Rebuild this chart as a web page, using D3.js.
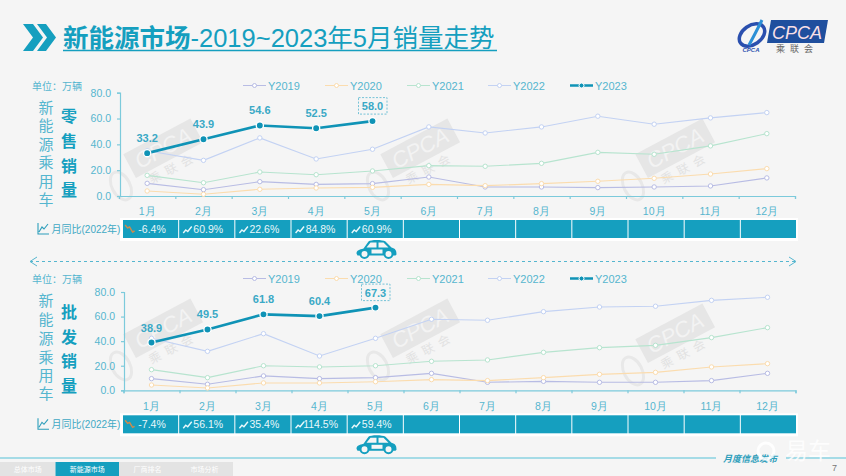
<!DOCTYPE html>
<html>
<head>
<meta charset="utf-8">
<script src="https://cdn.jsdelivr.net/npm/d3@7/dist/d3.min.js"></script>
<style>
  html, body { margin: 0; padding: 0; background: #f5f5f5; overflow: hidden; }
  svg { display: block; font-family: "Liberation Sans", "Noto Sans CJK SC", sans-serif; }
</style>
</head>
<body>
<div id="chart"></div>
<script>
var months = ['1月','2月','3月','4月','5月','6月','7月','8月','9月','10月','11月','12月'];
var yTicks = [0, 20, 40, 60, 80];
var years = ['Y2019','Y2020','Y2021','Y2022','Y2023'];
var colors = ['#b8bce4','#fbdcae','#b7e4cf','#c3d2f3','#0f93b6'];
var navTabs = ['总体市场','新能源市场','厂商排名','市场分析'];

// retail
var retail2019 = [9.8,4.9,11.1,9.0,9.6,14.7,7.0,7.0,6.5,7.0,7.8,14.0];
var retail2020 = [3.9,1.3,5.2,6.2,6.7,9.0,8.0,9.6,11.4,13.7,17.0,21.2];
var retail2021 = [16.0,10.3,18.6,16.5,19.4,23.5,23.0,25.3,33.8,32.3,38.8,48.3];
var retail2022 = [35.0,27.6,45.0,28.7,36.2,53.5,48.8,53.5,61.8,55.6,60.5,64.6];
var retail2023 = [33.2,43.9,54.6,52.5,58.0];
var retailYoy = ['-6.4%','60.9%','22.6%','84.8%','60.9%'];

// wholesale
var whole2019 = [9.5,4.9,11.7,9.5,10.3,13.8,6.5,7.3,6.5,6.5,7.9,13.8];
var whole2020 = [4.3,1.9,6.0,6.0,7.0,8.7,7.9,10.3,13.0,14.6,19.0,21.7];
var whole2021 = [16.8,10.3,20.0,19.0,20.0,23.6,24.7,30.9,34.7,36.6,42.9,51.0];
var whole2022 = [42.3,31.7,46.1,27.9,42.3,57.8,57.0,64.0,67.8,68.4,73.2,75.7];
var whole2023 = [38.9,49.5,61.8,60.4,67.3];
var wholeYoy = ['-7.4%','56.1%','35.4%','114.5%','59.4%'];

var teal = '#159fbf', soft = '#55b6cf', axisColor = '#7ccadb';

var svg = d3.select('#chart').append('svg')
  .attr('width', 846)
  .attr('height', 476);

svg.append('rect').attr('width', 846).attr('height', 476).attr('fill', '#f5f5f5');

// grey CPCA marks behind the charts
function watermark(cx, cy) {
  var g = svg.append('g')
    .attr('transform', 'translate(' + cx + ',' + cy + ') rotate(-28)');
  g.append('rect').attr('x', -37).attr('y', -15).attr('width', 76).attr('height', 27).attr('fill', '#e6e6e6');
  g.append('text').attr('x', 1).attr('y', 6).attr('text-anchor', 'middle')
    .attr('font-size', 22).attr('font-style', 'italic').attr('fill', '#f3f3f3').text('CPCA');
  g.append('text').attr('x', 1).attr('y', 25).attr('text-anchor', 'middle')
    .attr('font-size', 12).attr('letter-spacing', 6).attr('fill', '#e2e2e2').text('乘联会');
  g.append('ellipse').attr('cx', -54).attr('cy', 12).attr('rx', 9).attr('ry', 15)
    .attr('fill', 'none').attr('stroke', '#e8e8e8').attr('stroke-width', 3);
}
[[163,150],[420,150],[675,150],[163,330],[420,330],[675,335]].forEach(function(p){ watermark(p[0], p[1]); });

// title
svg.append('polygon').attr('points', '23,24 33,24 43,37.5 33,51 23,51 33,37.5').attr('fill', teal);
svg.append('polygon').attr('points', '37,24 46,24 56,37.5 46,51 37,51 47,37.5').attr('fill', teal);
var title = svg.append('text').attr('x', 63).attr('y', 47).attr('font-size', 25.5).attr('fill', teal);
title.append('tspan').attr('font-weight', 'bold').text('新能源市场');
title.append('tspan').text('-2019~2023年5月销量走势');
svg.append('line').attr('x1', 63).attr('x2', 497).attr('y1', 50.5).attr('y2', 50.5)
  .attr('stroke', teal).attr('stroke-width', 1.5);

// logo
svg.append('ellipse').attr('cx', 752).attr('cy', 35).attr('rx', 14).attr('ry', 9.5)
  .attr('transform', 'rotate(-35 752 35)').attr('fill', 'none').attr('stroke', '#2a4fae').attr('stroke-width', 3.5);
svg.append('path').attr('d', 'M762,20 C758,28 754,36 749,45').attr('fill', 'none').attr('stroke', '#2b8fd6').attr('stroke-width', 3);
svg.append('text').attr('x', 751).attr('y', 52).attr('text-anchor', 'middle').attr('font-size', 6)
  .attr('font-weight', 'bold').attr('font-style', 'italic').attr('fill', '#2a4fae').text('CPCA');
svg.append('polygon').attr('points', '771,20 828,20 824,43 767,43').attr('fill', '#1f4f9e');
svg.append('text').attr('x', 797).attr('y', 39).attr('text-anchor', 'middle').attr('font-size', 18)
  .attr('font-style', 'italic').attr('fill', '#f7dfe6').text('CPCA');
svg.append('text').attr('x', 776).attr('y', 52).attr('font-size', 9).attr('letter-spacing', 5).attr('fill', '#666').text('乘联会');

function car(x, y) {
  var g = svg.append('g').attr('transform', 'translate(' + x + ',' + y + ')');
  g.append('path').attr('d', 'M1,14 C1,11 4,10 8,9 L13,2 C15,0 27,0 30,2 L36,8 C40,9 41,11 41,15 L40,16 L2,16 Z').attr('fill', teal);
  g.append('path').attr('d', 'M11,8 L15,3 L21,3 L21,8 Z M23,3 L28,3 L33,8 L23,8 Z').attr('fill', '#f5f5f5');
  g.append('rect').attr('x', 16).attr('y', 10).attr('width', 11).attr('height', 4).attr('fill', '#f5f5f5');
  [9, 33].forEach(function(cx){
    g.append('circle').attr('cx', cx).attr('cy', 14.5).attr('r', 4).attr('fill', '#f5f5f5').attr('stroke', teal).attr('stroke-width', 2);
  });
}

// one panel: legend, axes, lines, labels and the yoy strip
function drawPanel(o) {
  var x = d3.scaleBand().domain(months).range(o.xRange);
  var edges = d3.scaleLinear().domain([0, 12]).range(o.xRange);
  var y = d3.scaleLinear().domain([0, 80]).range([o.y0, o.y80]);
  var cell = d3.scaleBand().domain(months).range([123, 797]);
  var cx = function(m){ return x(m) + x.bandwidth() / 2; };

  // white strip behind the table
  svg.append('rect').attr('x', 120).attr('y', o.tableY - 2).attr('width', 678).attr('height', 23).attr('fill', '#fff');

  svg.append('text').attr('x', 57).attr('y', o.legendY + 4).attr('text-anchor', 'middle')
    .attr('font-size', 10).attr('fill', soft).text('单位：万辆');

  o.leftY.forEach(function(py, i){
    svg.append('text').attr('x', 46).attr('y', py).attr('text-anchor', 'middle')
      .attr('font-size', 15).attr('fill', soft).text('新能源乘用车'[i]);
  });
  o.boldY.forEach(function(py, i){
    svg.append('text').attr('x', 69).attr('y', py).attr('text-anchor', 'middle')
      .attr('font-size', 16).attr('font-weight', 'bold').attr('fill', teal).text(o.bold[i]);
  });

  // legend
  var legendX = [243, 325, 407, 488, 570];
  years.forEach(function(name, i){
    var lx = legendX[i], g = svg.append('g');
    g.append('line').attr('x1', lx).attr('x2', lx + 23).attr('y1', o.legendY).attr('y2', o.legendY)
      .attr('stroke', colors[i]).attr('stroke-width', i === 4 ? 2.5 : 1);
    g.append('circle').attr('cx', lx + 11.5).attr('cy', o.legendY).attr('r', i === 4 ? 2.5 : 2)
      .attr('fill', i === 4 ? colors[i] : '#fff').attr('stroke', i === 4 ? '#fff' : colors[i]);
    g.append('text').attr('x', lx + 25).attr('y', o.legendY + 4).attr('font-size', 11)
      .attr('fill', soft).text(name);
  });

  // axes
  var yAxis = svg.append('g').attr('transform', 'translate(' + o.axisX + ',0)')
    .call(d3.axisLeft(y).tickValues(yTicks).tickSize(3).tickPadding(6).tickFormat(d3.format('.1f')));
  var xAxis = svg.append('g').attr('transform', 'translate(0,' + o.y0 + ')')
    .call(d3.axisBottom(edges).ticks(12).tickSize(3).tickFormat(''));
  var xLabels = svg.append('g').attr('transform', 'translate(0,' + o.y0 + ')')
    .call(d3.axisBottom(x).tickSize(0).tickPadding(12));
  xLabels.select('.domain').remove();
  [yAxis, xAxis, xLabels].forEach(function(a){
    a.selectAll('path,line').attr('stroke', axisColor).attr('stroke-width', 1.2);
    a.selectAll('text').attr('fill', soft).attr('font-size', 10.5).attr('font-family', null);
  });

  // series lines
  var line = d3.line().x(function(d, i){ return cx(months[i]); }).y(function(d){ return y(d); });
  o.series.forEach(function(values, s){
    svg.append('path').datum(values).attr('d', line).attr('fill', 'none')
      .attr('stroke', colors[s]).attr('stroke-width', 1.1);
    svg.selectAll(null).data(values).enter().append('circle')
      .attr('cx', function(d, i){ return cx(months[i]); })
      .attr('cy', function(d){ return y(d); })
      .attr('r', 2.2).attr('fill', '#fff').attr('stroke', colors[s]);
  });

  svg.append('path').datum(o.current).attr('d', line).attr('fill', 'none')
    .attr('stroke', colors[4]).attr('stroke-width', 2.6);
  svg.selectAll(null).data(o.current).enter().append('circle')
    .attr('cx', function(d, i){ return cx(months[i]); })
    .attr('cy', function(d){ return y(d); })
    .attr('r', 3.6).attr('fill', colors[4]).attr('stroke', '#fff').attr('stroke-width', 1.3);
  svg.selectAll(null).data(o.current).enter().append('text')
    .attr('x', function(d, i){ return cx(months[i]); })
    .attr('y', function(d){ return y(d) - 11; })
    .attr('text-anchor', 'middle').attr('font-size', 11).attr('font-weight', 'bold')
    .attr('fill', '#3aa9c6').text(function(d){ return d.toFixed(1); });

  // dashed box around the latest value
  var last = o.current.length - 1;
  svg.append('rect')
    .attr('x', cx(months[last]) - 14).attr('y', y(o.current[last]) - 23.5)
    .attr('width', 28.5).attr('height', 16.5)
    .attr('fill', 'none').attr('stroke', soft).attr('stroke-width', 0.8).attr('stroke-dasharray', '2,1.5');

  // yoy strip
  var ty = o.tableY;
  svg.append('path').attr('d', 'M38,' + (ty + 3) + ' V' + (ty + 14) + ' H49 M39,' + (ty + 12) + ' L42,' + (ty + 7) + ' L44,' + (ty + 9) + ' L48,' + (ty + 4))
    .attr('fill', 'none').attr('stroke', '#2d9ebb').attr('stroke-width', 1.1);
  svg.append('text').attr('x', 51.5).attr('y', ty + 13).attr('font-size', 10).attr('fill', '#3fa9c4').text('月同比(2022年)');

  svg.selectAll(null).data(months).enter().append('rect')
    .attr('x', function(m){ return cell(m); })
    .attr('y', ty)
    .attr('width', cell.bandwidth() - 1)
    .attr('height', 18)
    .attr('fill', teal);

  svg.selectAll(null).data(o.yoy).enter().append('text')
    .attr('x', function(d, i){ return cell(months[i]) + cell.bandwidth() / 2 + 1; })
    .attr('y', ty + 13).attr('text-anchor', 'middle').attr('font-size', 10.5)
    .attr('fill', '#e9f7fa').text(function(d){ return d; });

  svg.selectAll(null).data(o.yoy).enter().append('path')
    .attr('d', function(d, i){
      var ix = cell(months[i]) + cell.bandwidth() / 2 - (d.charAt(0) === '-' ? 22 : 20);
      return d.charAt(0) === '-'
        ? 'M' + (ix - 4) + ',' + (ty + 5) + ' l2.5,3 l2,-1 l3,5 l2,-1'
        : 'M' + (ix - 4) + ',' + (ty + 13) + ' l2.5,-3 l2,1.5 l4,-5';
    })
    .attr('fill', 'none')
    .attr('stroke', function(d){ return d.charAt(0) === '-' ? '#d08a4a' : '#eaf8fb'; })
    .attr('stroke-width', 1.4);

  car(355.5, o.tableY + 19.5);
}

drawPanel({
  y0: 196, y80: 92.7, axisX: 120, xRange: [119, 795], legendY: 85.5, tableY: 220,
  bold: '零售销量', boldY: [122, 147, 172, 196], leftY: [113, 131, 150, 168, 187, 205],
  series: [retail2019, retail2020, retail2021, retail2022], current: retail2023, yoy: retailYoy
});
drawPanel({
  y0: 390.3, y80: 292, axisX: 124, xRange: [123.5, 795.5], legendY: 278.5, tableY: 415.3,
  bold: '批发销量', boldY: [318, 343, 367, 392], leftY: [306, 325, 344, 363, 381, 399],
  series: [whole2019, whole2020, whole2021, whole2022], current: whole2023, yoy: wholeYoy
});

// divider between the panels
svg.append('line').attr('x1', 30).attr('x2', 796).attr('y1', 261.5).attr('y2', 261.5)
  .attr('stroke', soft).attr('stroke-dasharray', '3,3');
svg.append('path').attr('d', 'M37,257 L30,261.5 L37,266 M789,257 L796,261.5 L789,266')
  .attr('fill', 'none').attr('stroke', soft);

// footer
svg.append('line').attr('x1', 0).attr('x2', 716).attr('y1', 458).attr('y2', 458).attr('stroke', '#8ad2e1').attr('stroke-width', 1.5);
svg.append('line').attr('x1', 786).attr('x2', 846).attr('y1', 458).attr('y2', 458).attr('stroke', '#8ad2e1').attr('stroke-width', 1.5);
svg.append('text').attr('x', 723).attr('y', 462).attr('font-size', 9).attr('font-style', 'italic')
  .attr('font-weight', 'bold').attr('fill', '#2d9ebb').text('月度信息发布');

var tabX = d3.scaleOrdinal().domain(navTabs).range([0, 55.5, 119, 176]);
var tabW = d3.scaleOrdinal().domain(navTabs).range([55.5, 63.5, 57, 57]);
svg.selectAll(null).data(navTabs).enter().append('rect')
  .attr('x', function(d){ return tabX(d); })
  .attr('y', 462).attr('width', function(d){ return tabW(d); }).attr('height', 14)
  .attr('fill', function(d, i){ return i === 1 ? teal : '#e3e3e3'; });
svg.selectAll(null).data(navTabs).enter().append('text')
  .attr('x', function(d){ return tabX(d) + tabW(d) / 2; })
  .attr('y', 471.5).attr('text-anchor', 'middle').attr('font-size', 7)
  .attr('fill', '#fff').text(function(d){ return d; });

svg.append('circle').attr('cx', 766).attr('cy', 451).attr('r', 8).attr('fill', 'none').attr('stroke', '#fff').attr('stroke-width', 3).attr('opacity', 0.85);
svg.append('text').attr('x', 785).attr('y', 459).attr('font-size', 23).attr('fill', '#fff').attr('opacity', 0.85).text('易车');
svg.append('text').attr('x', 832).attr('y', 471).attr('font-size', 9).attr('fill', '#777').text('7');
</script>
</body>
</html>
